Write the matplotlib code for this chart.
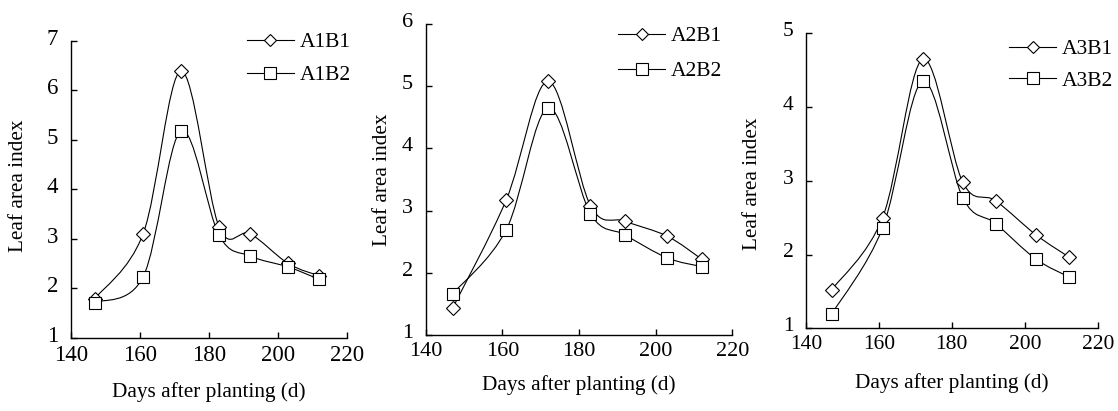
import numpy as np
import matplotlib
matplotlib.use("Agg")
import matplotlib.pyplot as plt
from matplotlib.path import Path
from matplotlib.patches import PathPatch
from matplotlib.lines import Line2D
from matplotlib.transforms import ScaledTranslation

plt.rcParams['font.family'] = ['Liberation Serif', 'DejaVu Serif']

# sampling days (same for every treatment)
days = [147, 161, 172, 183, 192, 203, 212]

# leaf area index per treatment
a1b1 = [1.79, 3.10, 6.39, 3.24, 3.10, 2.50, 2.25]
a1b2 = [1.71, 2.23, 5.18, 3.07, 2.65, 2.43, 2.18]
a2b1 = [1.43, 3.17, 5.08, 3.08, 2.83, 2.59, 2.22]
a2b2 = [1.66, 2.69, 4.65, 2.95, 2.61, 2.24, 2.10]
a3b1 = [1.52, 2.50, 4.65, 2.98, 2.73, 2.27, 1.97]
a3b2 = [1.19, 2.36, 4.35, 2.77, 2.42, 1.94, 1.70]

panels = [
    (("A1B1", a1b1), ("A1B2", a1b2), [1, 2, 3, 4, 5, 6, 7]),
    (("A2B1", a2b1), ("A2B2", a2b2), [1, 2, 3, 4, 5, 6]),
    (("A3B1", a3b1), ("A3B2", a3b2), [1, 2, 3, 4, 5]),
]
xticks = [140, 160, 180, 200, 220]

W, H = 1118, 411
fig = plt.figure(figsize=(W / 100, H / 100), dpi=100)

# axes boxes in pixels: left, right, top, bottom
boxes = [(70.7, 346.7, 40.7, 337.7),
         (425.7, 732.3, 24.0, 335.0),
         (806.0, 1097.7, 33.3, 328.3)]
# legend: handle start x, first row top y (px)
leg_pos = [(246.7, 32), (618.0, 26), (1009.0, 39)]
leg_space = [0.62, 0.70, 0.55]
ylab_x = [-0.19, -0.14, -0.185]
ylab_y = [0.51, 0.50, 0.49]
xlab_off = [54, 50, 55]
tick_fs = [16.5, 16, 15.5]


def smooth_path(xs, ys):
    # Excel-like smoothed line: Catmull-Rom segments as cubic Bezier
    pts = np.column_stack([xs, ys]).astype(float)
    ext = np.vstack([pts[0], pts, pts[-1]])
    verts = [pts[0]]
    codes = [Path.MOVETO]
    for i in range(len(pts) - 1):
        p0, p1, p2, p3 = ext[i], ext[i + 1], ext[i + 2], ext[i + 3]
        verts += [p1 + (p2 - p0) / 6, p2 - (p3 - p1) / 6, p2]
        codes += [Path.CURVE4] * 3
    return Path(verts, codes)


for k, (s1, s2, yticks) in enumerate(panels):
    l, r, t, b = boxes[k]
    ax = fig.add_axes([l / W, 1 - b / H, (r - l) / W, (b - t) / H])
    handles = []
    for (name, vals), mk, ms in ((s1, 'D', 7.5), (s2, 's', 9)):
        ax.add_patch(PathPatch(smooth_path(days, vals), fill=False,
                               edgecolor='black', lw=0.8, zorder=2))
        ax.plot(days, vals, linestyle='none', marker=mk, ms=ms,
                mfc='white', mec='black', mew=0.8, zorder=3)
        handles.append(Line2D([], [], color='black', lw=0.8, marker=mk,
                              ms=ms - 1, mfc='white', mec='black', mew=0.8,
                              label=name))
    ax.set_xlim(140, 220)
    ax.set_ylim(yticks[0], yticks[-1])
    ax.set_xticks(xticks)
    ax.set_yticks(yticks)
    for sp in ('top', 'right'):
        ax.spines[sp].set_visible(False)
    for sp in ('left', 'bottom'):
        ax.spines[sp].set_linewidth(1.0)
    ax.tick_params(direction='in', length=4, width=1.0, labelsize=tick_fs[k])
    ax.tick_params(axis='y', pad=9)
    ax.tick_params(axis='x', pad=5)
    for lab in ax.get_yticklabels():
        lab.set_transform(lab.get_transform() +
                          ScaledTranslation(0, 3 / 72, fig.dpi_scale_trans))
    ax.set_xlabel('Days after planting (d)', fontsize=15.3)
    ax.set_ylabel('Leaf area index', fontsize=15.3)
    ax.xaxis.label.set_va('center')
    ax.yaxis.label.set_va('center')
    ax.xaxis.set_label_coords(0.5, -xlab_off[k] / (b - t))
    ax.yaxis.set_label_coords(ylab_x[k], ylab_y[k])

    lx, ly = leg_pos[k]
    ax.legend(handles=handles, loc='upper left', frameon=False,
              bbox_to_anchor=(lx / W, 1 - ly / H),
              bbox_transform=fig.transFigure, borderpad=0,
              borderaxespad=0, handlelength=2.2, handletextpad=0.25,
              labelspacing=leg_space[k], fontsize=15.5)

fig.savefig('out.png', dpi=100)
